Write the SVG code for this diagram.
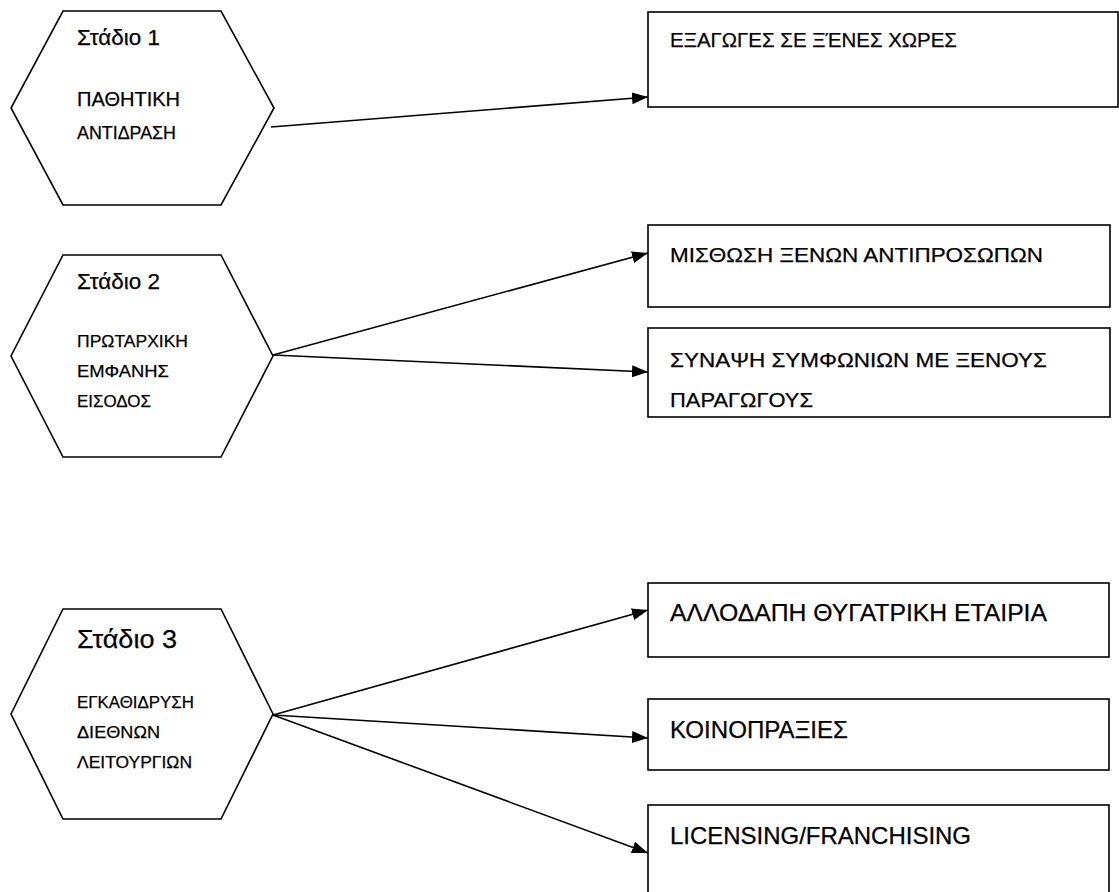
<svg xmlns="http://www.w3.org/2000/svg" width="1119" height="892" viewBox="0 0 1119 892">
<style>
.shape{fill:#fff;stroke:#000;stroke-width:1.6}
.t{font-family:"Liberation Sans",Arial,"DejaVu Sans",sans-serif;fill:#000;stroke:#000;stroke-width:0.25}
.conn line{stroke:#000;stroke-width:1.6}
</style>
<defs>
<marker id="ah" markerWidth="17" markerHeight="13" refX="16" refY="6.5" orient="auto" markerUnits="userSpaceOnUse">
<path d="M0,0.5 L16,6.5 L0,12.5 Z" fill="#000"/>
</marker>
</defs>
<rect width="1119" height="892" fill="#fff"/>
<g id="stage1">
<polygon class="shape" points="63,11 221,11 274,108 221,205 63,205 11,108"/>
<text class="t" x="77" y="45" font-size="22" textLength="83" lengthAdjust="spacingAndGlyphs">Στάδιο 1</text>
<text class="t" x="77" y="106" font-size="20" textLength="103" lengthAdjust="spacingAndGlyphs">ΠΑΘΗΤΙΚΗ</text>
<text class="t" x="77" y="139" font-size="17.5" textLength="99" lengthAdjust="spacingAndGlyphs">ΑΝΤΙΔΡΑΣΗ</text>
</g>
<g id="stage2">
<polygon class="shape" points="63,255 221,255 273,356 221,457 63,457 11,356"/>
<text class="t" x="77" y="289" font-size="22" textLength="83" lengthAdjust="spacingAndGlyphs">Στάδιο 2</text>
<text class="t" x="77" y="347" font-size="17.3" textLength="111" lengthAdjust="spacingAndGlyphs">ΠΡΩΤΑΡΧΙΚΗ</text>
<text class="t" x="77" y="377" font-size="17.3" textLength="92" lengthAdjust="spacingAndGlyphs">ΕΜΦΑΝΗΣ</text>
<text class="t" x="77" y="407" font-size="17.3" textLength="74" lengthAdjust="spacingAndGlyphs">ΕΙΣΟΔΟΣ</text>
</g>
<g id="stage3">
<polygon class="shape" points="63,609 221,609 273,714 221,819 63,819 11,714"/>
<text class="t" x="77" y="648" font-size="26.5" textLength="100" lengthAdjust="spacingAndGlyphs">Στάδιο 3</text>
<text class="t" x="77" y="708" font-size="16.8" textLength="117" lengthAdjust="spacingAndGlyphs">ΕΓΚΑΘΙΔΡΥΣΗ</text>
<text class="t" x="77" y="738" font-size="16.8" textLength="83" lengthAdjust="spacingAndGlyphs">ΔΙΕΘΝΩΝ</text>
<text class="t" x="77" y="768" font-size="16.8" textLength="115" lengthAdjust="spacingAndGlyphs">ΛΕΙΤΟΥΡΓΙΩΝ</text>
</g>
<g id="exports">
<rect class="shape" x="648" y="12" width="470" height="95"/>
<text class="t" x="670" y="47" font-size="20.5" textLength="287" lengthAdjust="spacingAndGlyphs">ΕΞΑΓΩΓΕΣ ΣΕ ΞΈΝΕΣ ΧΩΡΕΣ</text>
</g>
<g id="agents">
<rect class="shape" x="648" y="225" width="462" height="82"/>
<text class="t" x="670" y="262" font-size="21" textLength="373" lengthAdjust="spacingAndGlyphs">ΜΙΣΘΩΣΗ ΞΕΝΩΝ ΑΝΤΙΠΡΟΣΩΠΩΝ</text>
</g>
<g id="agreements">
<rect class="shape" x="648" y="328" width="462" height="89"/>
<text class="t" x="670" y="367" font-size="21" textLength="377" lengthAdjust="spacingAndGlyphs">ΣΥΝΑΨΗ ΣΥΜΦΩΝΙΩΝ ΜΕ ΞΕΝΟΥΣ</text>
<text class="t" x="670" y="407" font-size="21" textLength="143" lengthAdjust="spacingAndGlyphs">ΠΑΡΑΓΩΓΟΥΣ</text>
</g>
<g id="subsidiary">
<rect class="shape" x="648" y="583" width="461" height="74"/>
<text class="t" x="670" y="621" font-size="24" textLength="377" lengthAdjust="spacingAndGlyphs">ΑΛΛΟΔΑΠΗ ΘΥΓΑΤΡΙΚΗ ΕΤΑΙΡΙΑ</text>
</g>
<g id="jointventures">
<rect class="shape" x="648" y="699" width="461" height="71"/>
<text class="t" x="670" y="738" font-size="24" textLength="178" lengthAdjust="spacingAndGlyphs">ΚΟΙΝΟΠΡΑΞΙΕΣ</text>
</g>
<g id="licensing">
<rect class="shape" x="648" y="805" width="461" height="100"/>
<text class="t" x="670" y="844" font-size="24" textLength="301" lengthAdjust="spacingAndGlyphs">LICENSING/FRANCHISING</text>
</g>
<g id="connectors" class="conn">
<line x1="271" y1="127" x2="648" y2="97" marker-end="url(#ah)"/>
<line x1="273" y1="355" x2="648" y2="253" marker-end="url(#ah)"/>
<line x1="273" y1="355" x2="648" y2="372" marker-end="url(#ah)"/>
<line x1="273" y1="715" x2="648" y2="610" marker-end="url(#ah)"/>
<line x1="273" y1="715" x2="648" y2="738" marker-end="url(#ah)"/>
<line x1="273" y1="715" x2="648" y2="853" marker-end="url(#ah)"/>
</g>
</svg>
